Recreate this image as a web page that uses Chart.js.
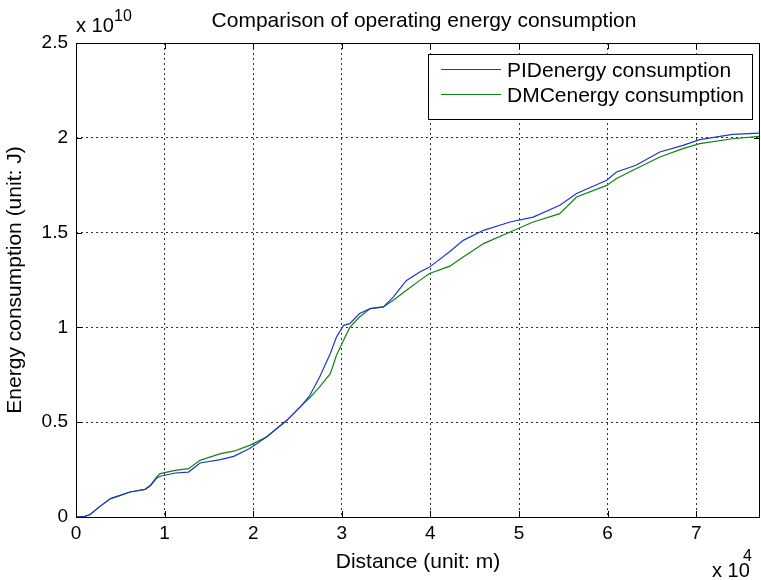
<!DOCTYPE html>
<html>
<head>
<meta charset="utf-8">
<title>Comparison of operating energy consumption</title>
<script src="https://cdn.jsdelivr.net/npm/chart.js@4/dist/chart.umd.min.js"></script>
<style>
  html, body { margin: 0; padding: 0; background: #fff; }
  #energy-chart { display: block; }
</style>
</head>
<body>
<canvas id="energy-chart" width="761" height="580"></canvas>
<script>
// Distance along the line, in units of 10^4 m
const DISTANCE = [
    0, 0.10, 0.16, 0.27, 0.39, 0.50, 0.61, 0.78, 0.84, 0.91,
    0.95, 1.12, 1.27, 1.40, 1.63, 1.78, 1.96, 2.15, 2.38, 2.55,
    2.64, 2.75, 2.87, 2.94, 3.02, 3.09, 3.20, 3.32, 3.47, 3.58,
    3.73, 3.88, 3.99, 4.22, 4.37, 4.60, 4.90, 5.16, 5.46, 5.65,
    5.99, 6.10, 6.32, 6.59, 6.85, 7.04, 7.41, 7.71,
];

// Cumulative energy, in units of 10^10 J
const PID_ENERGY = [
    0, 0.003, 0.013, 0.056, 0.097, 0.114, 0.132, 0.146, 0.165, 0.205,
    0.215, 0.232, 0.237, 0.285, 0.303, 0.320, 0.361, 0.422, 0.510, 0.590,
    0.642, 0.738, 0.862, 0.949, 1.011, 1.020, 1.073, 1.099, 1.108, 1.160,
    1.248, 1.292, 1.318, 1.400, 1.459, 1.512, 1.556, 1.582, 1.644, 1.706,
    1.776, 1.820, 1.855, 1.925, 1.960, 1.990, 2.018, 2.025,
];
const DMC_ENERGY = [
    0, 0.003, 0.013, 0.056, 0.097, 0.114, 0.132, 0.146, 0.167, 0.211,
    0.229, 0.246, 0.255, 0.299, 0.334, 0.347, 0.378, 0.422, 0.510, 0.590,
    0.630, 0.686, 0.756, 0.853, 0.932, 1.000, 1.055, 1.099, 1.108, 1.143,
    1.196, 1.248, 1.284, 1.323, 1.371, 1.442, 1.503, 1.556, 1.600, 1.688,
    1.749, 1.785, 1.837, 1.899, 1.943, 1.969, 1.995, 2.008,
];

const X_TICKS = ['0', '1', '2', '3', '4', '5', '6', '7'];
const Y_TICKS = ['0', '0.5', '1', '1.5', '2', '2.5'];
const X_MAX = 7.72;
const Y_MAX = 2.5;

const FONT = 'Liberation Sans, Arial, Helvetica, sans-serif';
const BLUE = '#2036cc';
const GREEN = '#108410';

const toPoints = ys => ys.map((y, i) => ({ x: DISTANCE[i], y }));

// ── Decorations drawn on top of the plot ──────────────────────────────

const framePlugin = {
    id: 'frame',
    afterDraw(chart) {
        const { ctx, chartArea: a, scales } = chart;
        ctx.save();

        // inward tick marks on all four sides
        ctx.strokeStyle = '#000';
        ctx.lineWidth = 1;
        ctx.beginPath();
        const tl = 6;
        X_TICKS.forEach(t => {
            const px = Math.round(scales.x.getPixelForValue(+t)) + 0.5;
            ctx.moveTo(px, a.bottom); ctx.lineTo(px, a.bottom - tl);
            ctx.moveTo(px, a.top);    ctx.lineTo(px, a.top + tl);
        });
        Y_TICKS.forEach(t => {
            const py = Math.round(scales.y.getPixelForValue(+t)) + 0.5;
            ctx.moveTo(a.left, py);  ctx.lineTo(a.left + tl, py);
            ctx.moveTo(a.right, py); ctx.lineTo(a.right - tl, py);
        });
        ctx.stroke();

        // box round the axes
        ctx.strokeRect(Math.round(a.left) + 0.5, Math.round(a.top) + 0.5,
                       Math.round(a.right - a.left) - 1, Math.round(a.bottom - a.top));

        // title
        ctx.fillStyle = '#000';
        ctx.font = `21px ${FONT}`;
        ctx.textAlign = 'center';
        ctx.textBaseline = 'alphabetic';
        ctx.fillText('Comparison of operating energy consumption', 424, 27);

        // axis multipliers
        ctx.textAlign = 'left';
        ctx.font = `20px ${FONT}`;
        ctx.fillText('x 10', a.left, 32);
        ctx.fillText('x 10', 712, 577);
        ctx.font = `16px ${FONT}`;
        ctx.fillText('10', 114, 21);
        ctx.fillText('4', 743, 561);

        // legend box
        const lx = 428, ly = 54, lw = 324, lh = 65;
        ctx.fillStyle = '#fff';
        ctx.fillRect(lx, ly, lw, lh);
        ctx.strokeStyle = '#000';
        ctx.strokeRect(lx + 0.5, ly + 0.5, lw, lh);
        ctx.font = `21px ${FONT}`;
        ctx.textBaseline = 'middle';
        chart.data.datasets.forEach((ds, i) => {
            const y = 69 + i * 25;
            ctx.strokeStyle = ds.borderColor;
            ctx.beginPath();
            ctx.moveTo(441, y + 0.5);
            ctx.lineTo(501, y + 0.5);
            ctx.stroke();
            ctx.fillStyle = '#000';
            ctx.fillText(ds.label, 507, y + 2);
        });

        ctx.restore();
    },
};

// ── Chart ─────────────────────────────────────────────────────────────

const gridOpts = {
    color: '#333',
    lineWidth: 1,
    drawTicks: false,
};

new Chart(document.getElementById('energy-chart'), {
    type: 'line',
    data: {
        datasets: [
            {
                label:       'PIDenergy consumption',
                data:        toPoints(PID_ENERGY),
                borderColor: BLUE,
                borderWidth: 1.2,
                pointRadius: 0,
                tension:     0,
                fill:        false,
            },
            {
                label:       'DMCenergy consumption',
                data:        toPoints(DMC_ENERGY),
                borderColor: GREEN,
                borderWidth: 1.2,
                pointRadius: 0,
                tension:     0,
                fill:        false,
            },
        ],
    },
    options: {
        responsive: false,
        animation:  false,
        layout: { padding: { top: 43, right: 1, left: 0, bottom: 0 } },
        plugins: {
            legend:  { display: false },
            tooltip: { enabled: false },
            title:   { display: false },
        },
        scales: {
            x: {
                type: 'linear',
                min: 0,
                max: X_MAX,
                afterFit: s => { s.height = 63; },
                afterBuildTicks: s => { s.ticks = X_TICKS.map(v => ({ value: +v })); },
                grid:   gridOpts,
                border: { display: false, dash: [2, 3] },
                ticks: {
                    color: '#000',
                    padding: 5,
                    maxRotation: 0,
                    font: { family: FONT, size: 19 },
                    callback: v => X_TICKS.find(t => +t === v) ?? '',
                },
                title: {
                    display: true,
                    text: 'Distance (unit: m)',
                    color: '#000',
                    font: { family: FONT, size: 21 },
                    padding: { top: 0, bottom: 5 },
                },
            },
            y: {
                min: 0,
                max: Y_MAX,
                afterFit: s => { s.width = 76; },
                afterBuildTicks: s => { s.ticks = Y_TICKS.map(v => ({ value: +v })); },
                grid:   gridOpts,
                border: { display: false, dash: [2, 3] },
                ticks: {
                    color: '#000',
                    padding: 8,
                    font: { family: FONT, size: 19 },
                    callback: v => Y_TICKS.find(t => +t === v) ?? '',
                },
                title: {
                    display: true,
                    text: 'Energy consumption (unit: J)',
                    color: '#000',
                    font: { family: FONT, size: 21 },
                    padding: { top: 3, bottom: 0 },
                },
            },
        },
    },
    plugins: [framePlugin],
});
</script>
</body>
</html>
